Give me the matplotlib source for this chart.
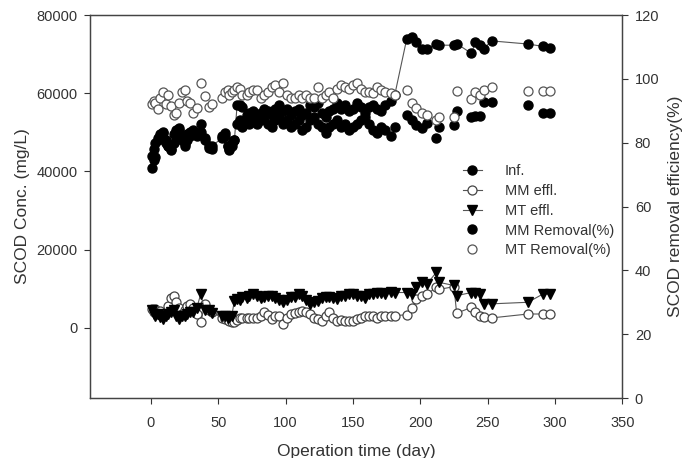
import matplotlib
matplotlib.use("Agg")
from matplotlib import pyplot as plt

plt.rcParams['font.family'] = ['Liberation Sans', 'DejaVu Sans']

# measurement days
day = [1, 2, 3, 5, 7, 9, 11, 13, 15, 17, 19, 21, 23, 25, 27, 29, 31, 34, 37, 40,
       43, 45, 53, 55, 57, 58, 60, 62, 64, 66, 68, 71, 73, 76, 79, 82, 84, 87, 90, 92,
       95, 98, 101, 104, 107, 110, 112, 115, 118, 121, 124, 127, 130, 132, 135, 138, 141, 144, 147, 150,
       153, 156, 159, 162, 165, 168, 171, 174, 178, 181,
       190, 194, 197, 201, 205, 212, 214, 225, 227, 238, 241, 244, 247, 253, 280, 291, 296]

# SCOD concentration (mg/L)
inf = [40800, 43000, 43600, 48500, 49500, 50000, 48000, 46500, 45500, 49500, 50500, 51000, 49000, 47000, 49500, 50000, 50000, 49000, 50000, 48500,
       46000, 46500, 48500, 49000, 46500, 45500, 46500, 48000, 57000, 57000, 56500, 54500, 55000, 55500, 54500, 55000, 56000, 55500, 54500, 56000,
       57000, 55500, 56000, 54500, 55500, 56000, 54500, 55000, 57000, 56500, 57500, 55000, 54000, 55500, 56000, 57500, 56000, 57000, 55500, 56000,
       57500, 56500, 55000, 56500, 57000, 56000, 55500, 57000, 58000, 59500,
       74000, 74500, 73000, 71400, 71400, 72700, 72300, 72300, 72700, 70200, 73200, 72300, 71400, 73400, 72600, 72000, 71700]
mm_effl = [4800, 4000, 4800, 3500, 4300, 3000, 4000, 5500, 7500, 8200, 6500, 5000, 3500, 4500, 5500, 6000, 5000, 3500, 1400, 6000,
           4400, 4000, 2500, 2200, 2000, 1800, 1400, 1400, 2000, 2600, 2600, 2600, 2600, 2600, 2600, 3000, 3900, 3200, 2200, 3000,
           3100, 1000, 2500, 3500, 3700, 3900, 4300, 4000, 3500, 2500, 2200, 1800, 3000, 3900, 2500, 1800, 2000, 1800, 1800, 1800,
           2200, 2600, 3100, 3000, 3100, 2500, 3100, 3000, 3100, 3100,
           3300, 5000, 7400, 8200, 8600, 10300, 9800, 10500, 3700, 5200, 3900, 3000, 2800, 2500, 3500, 3500, 3500]
mt_effl = [4400, 3500, 3000, 3500, 2800, 2200, 3000, 3500, 4000, 4400, 3000, 2200, 3000, 3100, 3500, 3900, 4000, 5000, 8600, 4400,
           4400, 3800, 3100, 3000, 2600, 2800, 3000, 6900, 7400, 7000, 7800, 7500, 8000, 8600, 8000, 7500, 7800, 8200, 8200, 7500,
           7000, 6500, 7200, 7800, 7800, 8600, 8000, 7000, 6100, 6500, 6900, 7500, 7800, 7800, 7600, 7400, 8000, 8200, 8600, 8600,
           8200, 8000, 7500, 8600, 8600, 9000, 8800, 8600, 9200, 9000,
           9000, 8600, 10300, 11600, 11200, 14200, 11600, 10800, 8200, 9000, 9000, 8600, 6100, 6100, 6500, 8600, 8600]

# SCOD removal efficiency (%)
mm_rem = [76, 78, 80, 81, 82, 83, 80, 79, 78, 80, 82, 84, 81, 79, 81, 82, 84, 83, 86, 81,
          79, 78, 82, 83, 79, 78, 80, 81, 86, 87, 85, 87, 86, 88, 86, 87, 88, 86, 85, 87,
          88, 86, 87, 85, 86, 87, 84, 85, 87, 88, 86, 85, 83, 85, 86, 87, 85, 86, 84, 85,
          86, 87, 88, 86, 84, 83, 85, 84, 82, 85,
          88.7, 87.1, 85.5, 84.5, 86.1, 81.4, 85.0, 85.6, 90.1, 88.2, 88.4, 88.4, 92.9, 92.9, 91.8, 89.2, 89.2]
mt_rem = [92, 93, 92.5, 90.5, 94, 96, 92, 95, 91.5, 88.7, 89.2, 92.5, 96, 96.5, 93, 92.5, 89.2, 91, 98.7, 94.6,
          91.3, 92, 94, 96, 96.6, 95, 96, 96.5, 97.6, 97, 95, 95, 96, 96.6, 96.6, 94, 95, 96, 97.6, 98,
          96, 98.8, 95, 94, 94, 95, 94, 95, 94, 94, 97.6, 94, 95, 96, 94, 97, 98, 97.6, 97, 98.1,
          98.7, 97, 96, 96, 95.5, 97.6, 96.5, 96, 95.5, 95,
          96.5, 92.5, 90.8, 89.2, 88.7, 87.1, 88, 88.2, 96.3, 93.6, 96.0, 95, 96.5, 97.6, 96.3, 96.3, 96.3]

fig = plt.figure(figsize=(7, 4.58), dpi=100)
ax = fig.add_axes([0.129, 0.131, 0.760, 0.836])
ax2 = ax.twinx()

lc = '#555555'
ms = 6.5
h1, = ax.plot(day, inf, '-o', color=lc, lw=0.8, ms=ms, mfc='black', mec='black', label='Inf.')
h2, = ax.plot(day, mm_effl, '-o', color=lc, lw=0.8, ms=ms, mfc='white', mec='#444444', mew=0.9, label='MM effl.')
h3, = ax.plot(day, mt_effl, '-v', color=lc, lw=0.8, ms=ms, mfc='black', mec='black', label='MT effl.')
h4, = ax2.plot(day, mm_rem, 'o', ls='none', ms=ms, mfc='black', mec='black', label='MM Removal(%)')
h5, = ax2.plot(day, mt_rem, 'o', ls='none', ms=ms, mfc='white', mec='#555555', mew=0.9, label='MT Removal(%)')

ax.set_xlim(-45, 350)
ax.set_ylim(-18000, 80000)
ax2.set_ylim(0, 120)
ax.set_xticks(range(0, 351, 50))
ax.set_yticks(range(0, 80001, 20000))
ax2.set_yticks(range(0, 121, 20))

tc = '#333333'
ax.tick_params(direction='out', length=4, width=0.8, colors=tc, labelsize=10.5, pad=5)
ax.tick_params(axis='x', pad=9)
ax2.tick_params(direction='out', length=4, width=0.8, colors=tc, labelsize=10.5, pad=5)
for a in (ax, ax2):
    for s in a.spines.values():
        s.set_color('#444444')
        s.set_linewidth(0.9)

ax.set_xlabel('Operation time (day)', fontsize=12.5, color=tc, labelpad=10)
ax.set_ylabel('SCOD Conc. (mg/L)', fontsize=12.5, color=tc, labelpad=5)
ax2.set_ylabel('SCOD removal efficiency(%)', fontsize=12.5, color=tc, labelpad=6)

leg = ax2.legend(handles=[h1, h2, h3, h4, h5], loc='upper left', bbox_to_anchor=(0.686, 0.63),
                 frameon=False, fontsize=10.5, handlelength=1.3, labelspacing=0.4,
                 handletextpad=1.6, borderpad=0)
for t in leg.get_texts():
    t.set_color(tc)

fig.savefig('out.png', dpi=100)
